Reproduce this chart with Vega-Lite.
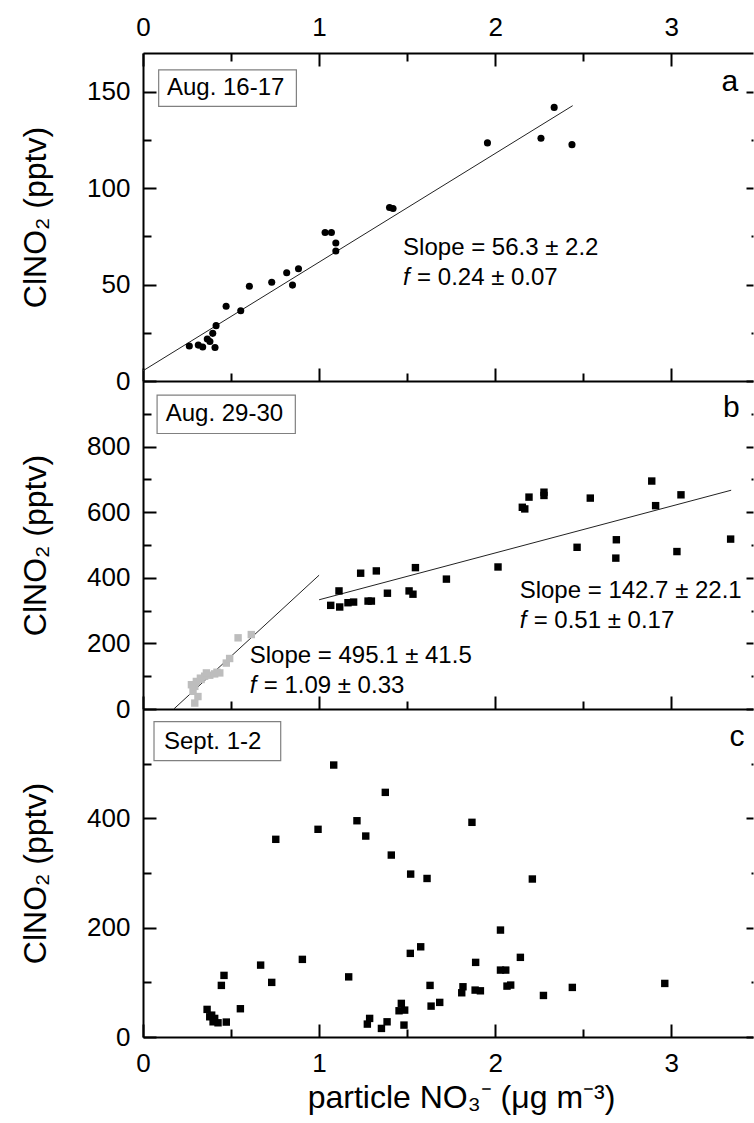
{
  "$schema": "https://vega.github.io/schema/vega-lite/v6.json",
  "background": "white",
  "padding": {"left": 19, "right": 0, "top": 14, "bottom": 5},
  "autosize": {"type": "pad"},
  "spacing": 0,
  "bounds": "flush",
  "config": {
    "font": "Liberation Sans",
    "view": {"stroke": null},
    "axis": {
      "labelFont": "Liberation Sans", "labelFontSize": 26, "labelColor": "black",
      "titleFont": "Liberation Sans", "titleFontSize": 32, "titleFontWeight": "normal", "titleColor": "black",
      "domainColor": "black", "domainWidth": 2, "tickColor": "black", "tickWidth": 2,
      "grid": false, "labelOverlap": false, "labelFlush": false
    }
  },
  "datasets": {
    "ptsA": [
      {"x":0.263,"y":18.1},{"x":0.314,"y":18.6},{"x":0.339,"y":17.6},{"x":0.365,"y":21.8},{"x":0.380,"y":20.5},
      {"x":0.396,"y":24.7},{"x":0.409,"y":17.4},{"x":0.415,"y":28.7},{"x":0.472,"y":38.7},{"x":0.555,"y":36.4},
      {"x":0.604,"y":49.1},{"x":0.731,"y":51.2},{"x":0.816,"y":56.1},{"x":0.849,"y":49.7},{"x":0.883,"y":58.2},
      {"x":1.034,"y":77.0},{"x":1.070,"y":77.0},{"x":1.095,"y":71.5},{"x":1.095,"y":67.4},{"x":1.400,"y":89.9},
      {"x":1.420,"y":89.4},{"x":1.956,"y":123.4},{"x":2.260,"y":125.8},{"x":2.335,"y":141.8},{"x":2.436,"y":122.5}
    ],
    "fitA": [{"x":0,"y":5.3},{"x":2.44,"y":142.7}],
    "ptsB": [
      {"x":0.294,"y":18,"g":"early"},{"x":0.312,"y":38,"g":"early"},{"x":0.284,"y":54,"g":"early"},{"x":0.294,"y":69,"g":"early"},
      {"x":0.275,"y":74,"g":"early"},{"x":0.303,"y":84,"g":"early"},{"x":0.330,"y":90,"g":"early"},{"x":0.326,"y":94,"g":"early"},
      {"x":0.350,"y":100,"g":"early"},{"x":0.379,"y":103,"g":"early"},{"x":0.407,"y":107,"g":"early"},{"x":0.436,"y":110,"g":"early"},
      {"x":0.360,"y":110,"g":"early"},{"x":0.420,"y":112,"g":"early"},{"x":0.473,"y":140,"g":"early"},{"x":0.492,"y":154,"g":"early"},
      {"x":0.540,"y":217,"g":"early"},{"x":0.615,"y":227,"g":"early"},
      {"x":1.066,"y":316,"g":"late"},{"x":1.113,"y":360,"g":"late"},{"x":1.117,"y":311,"g":"late"},{"x":1.164,"y":324,"g":"late"},
      {"x":1.196,"y":326,"g":"late"},{"x":1.236,"y":414,"g":"late"},{"x":1.278,"y":329,"g":"late"},{"x":1.297,"y":329,"g":"late"},
      {"x":1.325,"y":421,"g":"late"},{"x":1.388,"y":353,"g":"late"},{"x":1.511,"y":360,"g":"late"},{"x":1.533,"y":350,"g":"late"},
      {"x":1.547,"y":431,"g":"late"},{"x":1.723,"y":396,"g":"late"},{"x":2.016,"y":433,"g":"late"},{"x":2.154,"y":615,"g":"late"},
      {"x":2.168,"y":610,"g":"late"},{"x":2.192,"y":646,"g":"late"},{"x":2.277,"y":661,"g":"late"},{"x":2.277,"y":651,"g":"late"},
      {"x":2.465,"y":493,"g":"late"},{"x":2.540,"y":643,"g":"late"},{"x":2.688,"y":516,"g":"late"},{"x":2.685,"y":460,"g":"late"},
      {"x":2.889,"y":695,"g":"late"},{"x":2.911,"y":620,"g":"late"},{"x":3.032,"y":480,"g":"late"},{"x":3.055,"y":653,"g":"late"},
      {"x":3.337,"y":518,"g":"late"}
    ],
    "fitB": [
      {"x":0.175,"y":0,"seg":"early"},{"x":1.0,"y":408,"seg":"early"},
      {"x":1.0,"y":333,"seg":"late"},{"x":3.34,"y":667,"seg":"late"}
    ],
    "ptsC": [
      {"x":1.083,"y":497.5},{"x":1.376,"y":447.5},{"x":1.215,"y":395.6},{"x":1.265,"y":367.6},{"x":0.994,"y":379.9},
      {"x":0.754,"y":361.6},{"x":1.410,"y":332.8},{"x":1.520,"y":298},{"x":1.613,"y":290},{"x":1.577,"y":165},
      {"x":1.518,"y":153},{"x":0.905,"y":142},{"x":0.668,"y":131.5},{"x":0.460,"y":112.7},{"x":0.445,"y":94.4},
      {"x":0.731,"y":99.9},{"x":1.168,"y":110},{"x":1.630,"y":94.4},{"x":0.553,"y":51.7},{"x":0.364,"y":50.5},
      {"x":0.379,"y":37},{"x":0.407,"y":34},{"x":0.398,"y":27.8},{"x":0.426,"y":26},{"x":0.473,"y":27.3},
      {"x":0.390,"y":40},{"x":1.685,"y":63.3},{"x":1.636,"y":56.5},{"x":1.467,"y":61.5},{"x":1.454,"y":48},
      {"x":1.486,"y":49.2},{"x":1.287,"y":34},{"x":1.274,"y":23.6},{"x":1.386,"y":27.8},{"x":1.354,"y":15.7},
      {"x":1.482,"y":21.8},{"x":1.868,"y":392.7},{"x":2.211,"y":289},{"x":2.030,"y":195.6},{"x":1.889,"y":136.5},
      {"x":2.143,"y":145.7},{"x":2.030,"y":122.4},{"x":2.060,"y":122.4},{"x":1.817,"y":91.9},{"x":1.810,"y":80.9},
      {"x":1.886,"y":85.8},{"x":1.916,"y":84.5},{"x":2.067,"y":93.1},{"x":2.088,"y":95},{"x":2.274,"y":76},
      {"x":2.438,"y":90.7},{"x":2.963,"y":98}
    ],
    "boxA": [{"x0":0.089,"x1":0.871,"y0":142.3,"y1":161.3,"tx":0.136,"ty":151.8,"label":"Aug. 16-17","lx":3.332,"ly":155,"letter":"a"}],
    "boxB": [{"x0":0.080,"x1":0.865,"y0":840,"y1":957,"tx":0.129,"ty":899,"label":"Aug. 29-30","lx":3.341,"ly":919,"letter":"b"}],
    "boxC": [{"x0":0.0625,"x1":0.782,"y0":505.4,"y1":576.8,"tx":0.119,"ty":540,"label":"Sept. 1-2","lx":3.373,"ly":549,"letter":"c"}],
    "slopeA": [{"x":1.477,"y":68.8,"t":"Slope = 56.3 ± 2.2"}],
    "fA": [{"x":1.477,"y":53.2,"t":"= 0.24 ± 0.07"}],
    "slopeB": [{"x":0.606,"y":161,"t":"Slope = 495.1 ± 41.5"},{"x":2.139,"y":360,"t":"Slope = 142.7 ± 22.1"}],
    "fB": [{"x":0.606,"y":69,"t":"= 1.09 ± 0.33"},{"x":2.139,"y":268,"t":"= 0.51 ± 0.17"}]
  },
  "vconcat": [
    {
      "width": 610, "height": 328,
      "resolve": {"axis": {"x": "independent", "y": "independent"}},
      "layer": [
        {
          "data": {"name": "boxA"},
          "mark": {"type": "rect", "fill": "white", "stroke": "#808080", "strokeWidth": 1.2},
          "encoding": {
            "x": {"field": "x0", "type": "quantitative", "scale": {"domain": [0, 3.464], "nice": false, "zero": false},
                  "axis": {"orient": "bottom", "values": [0,1,2,3], "tickSize": -13, "labels": false, "domain": true, "title": null}},
            "x2": {"field": "x1"},
            "y": {"field": "y0", "type": "quantitative", "scale": {"domain": [0, 170], "nice": false, "zero": false},
                  "axis": {"orient": "left", "values": [0,50,100,150], "tickSize": -13, "labelPadding": 26, "domain": true, "title": "ClNO₂ (pptv)", "titlePadding": 34}},
            "y2": {"field": "y1"}
          }
        },
        {
          "data": {"name": "boxA"},
          "mark": {"type": "text", "align": "left", "baseline": "middle", "fontSize": 24, "color": "black"},
          "encoding": {
            "x": {"field": "tx", "type": "quantitative", "scale": {"domain": [0, 3.464], "nice": false, "zero": false},
                  "axis": {"orient": "bottom", "values": [0.5,1.5,2.5], "tickSize": -8, "labels": false, "domain": false, "title": null}},
            "y": {"field": "ty", "type": "quantitative", "scale": {"domain": [0, 170], "nice": false, "zero": false},
                  "axis": {"orient": "left", "values": [25,75,125], "tickSize": -8, "labels": false, "domain": false, "title": null}},
            "text": {"field": "label"}
          }
        },
        {
          "data": {"name": "fitA"},
          "mark": {"type": "line", "color": "#222222", "strokeWidth": 1},
          "encoding": {
            "x": {"field": "x", "type": "quantitative", "scale": {"domain": [0, 3.464], "nice": false, "zero": false},
                  "axis": {"orient": "top", "values": [0.5,1.5,2.5], "tickSize": -8, "labels": false, "domain": false, "title": null}},
            "y": {"field": "y", "type": "quantitative", "scale": {"domain": [0, 170], "nice": false, "zero": false},
                  "axis": {"orient": "right", "values": [25,75,125], "tickSize": -2, "labels": false, "domain": false, "title": null}}
          }
        },
        {
          "data": {"name": "ptsA"},
          "mark": {"type": "point", "shape": "circle", "filled": true, "size": 50, "color": "black", "opacity": 1},
          "encoding": {
            "x": {"field": "x", "type": "quantitative", "scale": {"domain": [0, 3.464], "nice": false, "zero": false},
                  "axis": {"orient": "top", "values": [0,1,2,3], "tickSize": -13, "labelPadding": 26, "domain": true, "title": null}},
            "y": {"field": "y", "type": "quantitative", "scale": {"domain": [0, 170], "nice": false, "zero": false},
                  "axis": {"orient": "right", "values": [0,50,100,150], "tickSize": -7, "labels": false, "domain": false, "title": null}}
          }
        },
        {
          "data": {"name": "slopeA"},
          "mark": {"type": "text", "align": "left", "baseline": "middle", "fontSize": 24, "color": "black"},
          "encoding": {
            "x": {"field": "x", "type": "quantitative", "axis": null},
            "y": {"field": "y", "type": "quantitative", "axis": null},
            "text": {"field": "t"}
          }
        },
        {
          "data": {"name": "fA"},
          "mark": {"type": "text", "align": "left", "baseline": "middle", "fontSize": 24, "fontStyle": "italic", "color": "black"},
          "encoding": {
            "x": {"field": "x", "type": "quantitative", "axis": null},
            "y": {"field": "y", "type": "quantitative", "axis": null},
            "text": {"value": "f"}
          }
        },
        {
          "data": {"name": "fA"},
          "mark": {"type": "text", "align": "left", "baseline": "middle", "fontSize": 24, "dx": 14, "color": "black"},
          "encoding": {
            "x": {"field": "x", "type": "quantitative", "axis": null},
            "y": {"field": "y", "type": "quantitative", "axis": null},
            "text": {"field": "t"}
          }
        },
        {
          "data": {"name": "boxA"},
          "mark": {"type": "text", "align": "center", "baseline": "middle", "fontSize": 30, "color": "black"},
          "encoding": {
            "x": {"field": "lx", "type": "quantitative", "axis": null},
            "y": {"field": "ly", "type": "quantitative", "axis": null},
            "text": {"field": "letter"}
          }
        }
      ]
    },
    {
      "width": 610, "height": 328,
      "resolve": {"axis": {"x": "independent", "y": "independent"}},
      "layer": [
        {
          "data": {"name": "boxB"},
          "mark": {"type": "rect", "fill": "white", "stroke": "#808080", "strokeWidth": 1.2},
          "encoding": {
            "x": {"field": "x0", "type": "quantitative", "scale": {"domain": [0, 3.464], "nice": false, "zero": false},
                  "axis": {"orient": "bottom", "values": [0,1,2,3], "tickSize": -13, "labels": false, "domain": true, "title": null}},
            "x2": {"field": "x1"},
            "y": {"field": "y0", "type": "quantitative", "scale": {"domain": [0, 1000], "nice": false, "zero": false},
                  "axis": {"orient": "left", "values": [0,200,400,600,800], "tickSize": -13, "labelPadding": 26, "domain": true, "title": "ClNO₂ (pptv)", "titlePadding": 34}},
            "y2": {"field": "y1"}
          }
        },
        {
          "data": {"name": "boxB"},
          "mark": {"type": "text", "align": "left", "baseline": "middle", "fontSize": 24, "color": "black"},
          "encoding": {
            "x": {"field": "tx", "type": "quantitative", "scale": {"domain": [0, 3.464], "nice": false, "zero": false},
                  "axis": {"orient": "bottom", "values": [0.5,1.5,2.5], "tickSize": -8, "labels": false, "domain": false, "title": null}},
            "y": {"field": "ty", "type": "quantitative", "scale": {"domain": [0, 1000], "nice": false, "zero": false},
                  "axis": {"orient": "left", "values": [100,300,500,700,900], "tickSize": -8, "labels": false, "domain": false, "title": null}},
            "text": {"field": "label"}
          }
        },
        {
          "data": {"name": "fitB"},
          "mark": {"type": "line", "color": "#222222", "strokeWidth": 1},
          "encoding": {
            "x": {"field": "x", "type": "quantitative", "scale": {"domain": [0, 3.464], "nice": false, "zero": false}, "axis": null},
            "y": {"field": "y", "type": "quantitative", "scale": {"domain": [0, 1000], "nice": false, "zero": false},
                  "axis": {"orient": "right", "values": [100,300,500,700,900], "tickSize": -2, "labels": false, "domain": false, "title": null}},
            "detail": {"field": "seg"}
          }
        },
        {
          "data": {"name": "ptsB"},
          "mark": {"type": "point", "shape": "square", "filled": true, "size": 55, "opacity": 1},
          "encoding": {
            "x": {"field": "x", "type": "quantitative", "scale": {"domain": [0, 3.464], "nice": false, "zero": false}, "axis": null},
            "y": {"field": "y", "type": "quantitative", "scale": {"domain": [0, 1000], "nice": false, "zero": false},
                  "axis": {"orient": "right", "values": [0,200,400,600,800], "tickSize": -7, "labels": false, "domain": false, "title": null}},
            "color": {"field": "g", "type": "nominal", "scale": {"domain": ["early", "late"], "range": ["#bdbdbd", "black"]}, "legend": null}
          }
        },
        {
          "data": {"name": "slopeB"},
          "mark": {"type": "text", "align": "left", "baseline": "middle", "fontSize": 24, "color": "black"},
          "encoding": {
            "x": {"field": "x", "type": "quantitative", "axis": null},
            "y": {"field": "y", "type": "quantitative", "axis": null},
            "text": {"field": "t"}
          }
        },
        {
          "data": {"name": "fB"},
          "mark": {"type": "text", "align": "left", "baseline": "middle", "fontSize": 24, "fontStyle": "italic", "color": "black"},
          "encoding": {
            "x": {"field": "x", "type": "quantitative", "axis": null},
            "y": {"field": "y", "type": "quantitative", "axis": null},
            "text": {"value": "f"}
          }
        },
        {
          "data": {"name": "fB"},
          "mark": {"type": "text", "align": "left", "baseline": "middle", "fontSize": 24, "dx": 14, "color": "black"},
          "encoding": {
            "x": {"field": "x", "type": "quantitative", "axis": null},
            "y": {"field": "y", "type": "quantitative", "axis": null},
            "text": {"field": "t"}
          }
        },
        {
          "data": {"name": "boxB"},
          "mark": {"type": "text", "align": "center", "baseline": "middle", "fontSize": 30, "color": "black"},
          "encoding": {
            "x": {"field": "lx", "type": "quantitative", "axis": null},
            "y": {"field": "ly", "type": "quantitative", "axis": null},
            "text": {"field": "letter"}
          }
        }
      ]
    },
    {
      "width": 610, "height": 328,
      "resolve": {"axis": {"x": "independent", "y": "independent"}},
      "layer": [
        {
          "data": {"name": "boxC"},
          "mark": {"type": "rect", "fill": "white", "stroke": "#808080", "strokeWidth": 1.2},
          "encoding": {
            "x": {"field": "x0", "type": "quantitative", "scale": {"domain": [0, 3.464], "nice": false, "zero": false},
                  "axis": {"orient": "bottom", "values": [0,1,2,3], "tickSize": -13, "labelPadding": 26, "domain": true,
                           "title": "particle NO₃⁻ (μg m⁻³)", "titlePadding": 6, "titleX": 318}},
            "x2": {"field": "x1"},
            "y": {"field": "y0", "type": "quantitative", "scale": {"domain": [0, 600], "nice": false, "zero": false},
                  "axis": {"orient": "left", "values": [0,200,400], "tickSize": -13, "labelPadding": 26, "domain": true, "title": "ClNO₂ (pptv)", "titlePadding": 34}},
            "y2": {"field": "y1"}
          }
        },
        {
          "data": {"name": "boxC"},
          "mark": {"type": "text", "align": "left", "baseline": "middle", "fontSize": 24, "color": "black"},
          "encoding": {
            "x": {"field": "tx", "type": "quantitative", "scale": {"domain": [0, 3.464], "nice": false, "zero": false},
                  "axis": {"orient": "bottom", "values": [0.5,1.5,2.5], "tickSize": -8, "labels": false, "domain": false, "title": null}},
            "y": {"field": "ty", "type": "quantitative", "scale": {"domain": [0, 600], "nice": false, "zero": false},
                  "axis": {"orient": "left", "values": [100,300,500], "tickSize": -8, "labels": false, "domain": false, "title": null}},
            "text": {"field": "label"}
          }
        },
        {
          "data": {"name": "ptsC"},
          "mark": {"type": "point", "shape": "square", "filled": true, "size": 55, "color": "black", "opacity": 1},
          "encoding": {
            "x": {"field": "x", "type": "quantitative", "scale": {"domain": [0, 3.464], "nice": false, "zero": false}, "axis": null},
            "y": {"field": "y", "type": "quantitative", "scale": {"domain": [0, 600], "nice": false, "zero": false},
                  "axis": {"orient": "right", "values": [0,200,400], "tickSize": -7, "labels": false, "domain": false, "title": null}}
          }
        },
        {
          "data": {"name": "boxC"},
          "mark": {"type": "text", "align": "center", "baseline": "middle", "fontSize": 30, "color": "black"},
          "encoding": {
            "x": {"field": "lx", "type": "quantitative", "axis": null},
            "y": {"field": "ly", "type": "quantitative",
                  "axis": {"orient": "right", "values": [100,300,500], "tickSize": -2, "labels": false, "domain": false, "title": null}},
            "text": {"field": "letter"}
          }
        }
      ]
    }
  ]
}
